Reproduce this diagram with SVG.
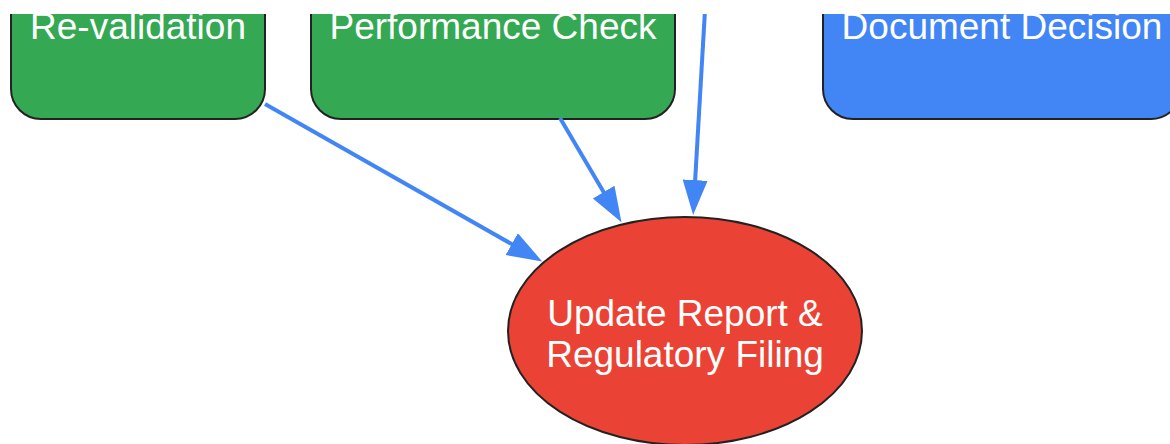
<svg xmlns="http://www.w3.org/2000/svg" width="1170" height="444" viewBox="0 0 1170 444">
<style>
.box{stroke:#222;stroke-width:2}
.g{fill:#34A853}
.b{fill:#4285F4}
.r{fill:#EA4335}
.t{fill:#fff;font-family:"Liberation Sans",Arial,sans-serif;font-size:37px;text-anchor:middle}
.edge{stroke:#4285F4;stroke-width:4;fill:none}
</style>
<defs>
<clipPath id="c"><rect x="0" y="14" width="1170" height="430"/></clipPath>
<marker id="ah" markerUnits="userSpaceOnUse" markerWidth="36" markerHeight="26" refX="1" refY="12.5" orient="auto">
<path d="M0,0 L35,12.5 L0,25 z" fill="#4285F4"/>
</marker>
</defs>
<rect width="1170" height="444" fill="#fff"/>
<g clip-path="url(#c)">
<g id="node-revalidation">
<rect class="box g" x="11" y="-60" width="254" height="179" rx="30"/>
<text class="t" x="138" y="39">Re-validation</text>
</g>
<g id="node-performance">
<rect class="box g" x="311" y="-60" width="364" height="179" rx="30"/>
<text class="t" x="493" y="39">Performance Check</text>
</g>
<g id="node-document">
<rect class="box b" x="823" y="-60" width="358" height="179" rx="30"/>
<text class="t" x="1002" y="39">Document Decision</text>
</g>
<g id="node-update">
<ellipse class="box r" cx="685" cy="331" rx="177" ry="114"/>
<text class="t" x="685" y="326">Update Report &amp;</text>
<text class="t" x="685" y="367">Regulatory Filing</text>
</g>
<g id="connectors">
<line class="edge" x1="265" y1="104" x2="512.6" y2="244.6" marker-end="url(#ah)"/>
<line class="edge" x1="560" y1="118" x2="604.2" y2="192.9" marker-end="url(#ah)"/>
<line class="edge" x1="705" y1="10" x2="695.1" y2="181.1" marker-end="url(#ah)"/>
</g>
</g>
</svg>
